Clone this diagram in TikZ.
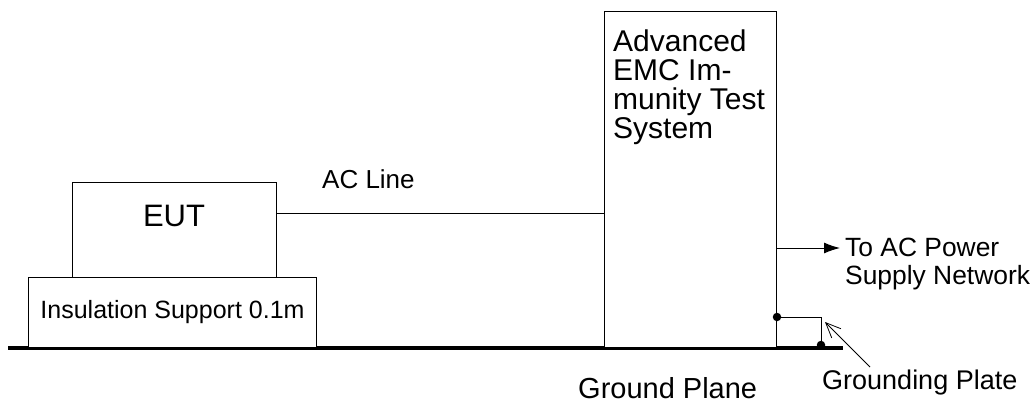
\documentclass[tikz,border=0pt]{standalone}
\usepackage{fontspec}
\setmainfont{Liberation Sans}
\usetikzlibrary{arrows.meta,positioning}
\tikzset{
  box/.style  ={rectangle, draw=black, line width=1pt, fill=white, inner sep=0pt},
  txt/.style  ={inner sep=0pt, font=\fontsize{25}{28}\selectfont},
  mid/.style  ={inner sep=0pt, font=\fontsize{26.4}{28}\selectfont},
  big/.style  ={inner sep=0pt, font=\fontsize{30}{29}\selectfont},
  wire/.style ={draw=black, line width=1pt},
  dot/.style  ={circle, fill=black, inner sep=0pt, minimum size=8.5pt},
  ar/.style   ={-{Latex[length=16pt,width=11pt]}, wire},
  arp/.style  ={-{Straight Barb[length=15pt,width=13pt]}, draw=black, line width=0.8pt}
}

\begin{document}
\begin{tikzpicture}[x=1pt,y=-1pt]
\useasboundingbox (0,0) rectangle (1036,405);
% ground plane
\coordinate (gl) at (8,348);
\coordinate (gr) at (843,348);
\draw[line width=4pt] (gl) -- (gr);
% equipment
\node[box, txt, anchor=south west, minimum width=288pt, minimum height=70pt] (ins) at (28,348) {Insulation Support 0.1m};
\node[box, anchor=south west, minimum width=204pt, minimum height=95pt] (eut) at (72,278) {};
\node[big, font=\fontsize{31}{31}\selectfont] (euttxt) at (174,216) {EUT};
\node[box, anchor=south west, minimum width=172pt, minimum height=336pt] (sys) at (604,348) {};
\node[big, align=left, anchor=north west] (systxt) at (613,30) {Advanced\\EMC Im-\\munity Test\\System};
% ac line
\coordinate (ac) at (0,213);
\draw[wire] (eut.east |- ac) -- (sys.west |- ac);
\node[mid, font=\fontsize{26}{28}\selectfont, anchor=base west] (actxt) at (322,188) {AC Line};
% supply
\coordinate (pw) at (840,248);
\draw[ar] (sys.east |- pw) -- (pw);
\node[mid, align=left, anchor=north west] (pwtxt) at (845,238) {To AC Power\\Supply Network};
% grounding
\node[dot] (g1) at (777,317) {};
\node[dot] (g2) at (821,345) {};
\draw[wire] (g1) -| (g2);
\coordinate (gpt) at (870,367);
\coordinate (gph) at (825,322);
\draw[arp] (gpt) -- (gph);
\node[mid, font=\fontsize{27}{28}\selectfont, anchor=base west] (gptxt) at (822,389) {Grounding Plate};
\node[inner sep=0pt, font=\fontsize{29}{32}\selectfont, anchor=base west] (gndtxt) at (578,398) {Ground Plane};
\end{tikzpicture}
\end{document}
